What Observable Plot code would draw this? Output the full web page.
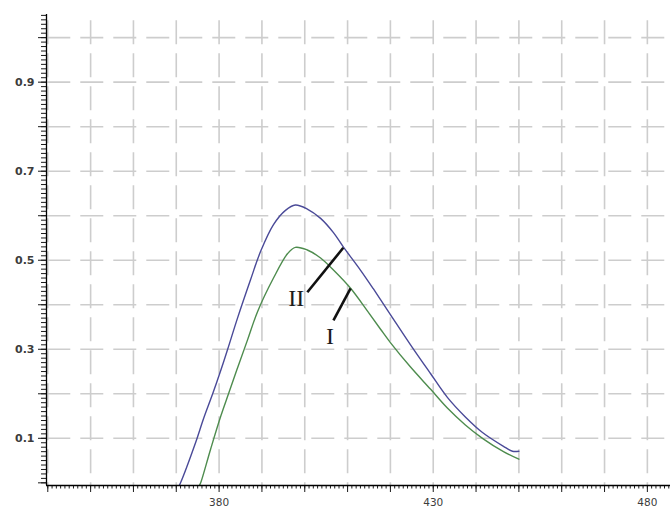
<!DOCTYPE html>
<html>
<head>
<meta charset="utf-8">
<script src="https://cdn.jsdelivr.net/npm/d3@7"></script>
<script src="https://cdn.jsdelivr.net/npm/@observablehq/plot@0.6"></script>
<style>
  html, body { margin: 0; padding: 0; background: #ffffff; }
</style>
</head>
<body>
<div id="chart"></div>
<script>
// Curve II (blue)
const wlII  = [370.7, 371.0, 374.5, 376.4, 378.5, 380.4, 382.0, 384.3, 387.3, 389.7, 392.7, 395.5, 397.8, 400.6, 403.7, 406.7, 409.0, 413.0, 416.0, 420.0, 424.7, 429.4, 433.3, 437.5, 441.5, 446.4, 448.5, 450.0];
const valII = [-0.006, 0.000, 0.090, 0.145, 0.200, 0.253, 0.300, 0.370, 0.455, 0.520, 0.580, 0.612, 0.624, 0.615, 0.594, 0.562, 0.530, 0.478, 0.436, 0.378, 0.310, 0.245, 0.192, 0.148, 0.113, 0.082, 0.071, 0.071];
// Curve I (green)
const wlI  = [375.4, 375.7, 378.0, 380.4, 382.2, 384.3, 386.6, 389.0, 392.7, 396.0, 397.8, 400.6, 403.7, 406.7, 410.7, 414.7, 417.7, 420.0, 424.7, 429.4, 433.3, 437.5, 441.5, 446.4, 450.0];
const valI = [-0.006, 0.000, 0.075, 0.150, 0.200, 0.258, 0.320, 0.385, 0.460, 0.515, 0.529, 0.523, 0.505, 0.478, 0.437, 0.385, 0.345, 0.315, 0.260, 0.210, 0.168, 0.130, 0.100, 0.070, 0.053];

// Annotation labels and their pointer lines
const labelNames = ["II", "I"];
const labelX = [398.0, 405.9];
const labelY = [0.415, 0.328];
const pointerX1 = [400.6, 406.7];
const pointerY1 = [0.428, 0.365];
const pointerX2 = [409.0, 410.7];
const pointerY2 = [0.528, 0.437];

// Ticks and grid
const xGrid = d3.range(340, 481, 10);
const xMinor = d3.range(340, 486, 1);
const xLabels = [380, 430, 480];
const yGrid = d3.range(1, 11).map(i => i / 10);
const yMajor = d3.range(0, 11).map(i => i / 10);
const yMinor = d3.range(0, 106).map(i => i / 100);
const yLabels = ["0.1", "0.3", "0.5", "0.7", "0.9"];

const xDomain = [339.7, 485.4];
const yDomain = [-0.006, 1.052];

const lineII = wlII.map((w, i) => ({w, v: valII[i]}));
const lineI = wlI.map((w, i) => ({w, v: valI[i]}));
const labels = labelNames.map((t, i) => ({t, x: labelX[i], y: labelY[i]}));
const pointers = labelNames.map((t, i) => ({x1: pointerX1[i], y1: pointerY1[i], x2: pointerX2[i], y2: pointerY2[i]}));

const gridCol = "#cdcdcd";
const tickCol = "#1a1a1a";
const textCol = "#3c3c3c";

const chart = Plot.plot({
  width: 670,
  height: 511,
  marginLeft: 46,
  marginRight: 0,
  marginTop: 14,
  marginBottom: 26,
  style: {fontFamily: "'DejaVu Sans', sans-serif", fontSize: "11px", background: "#ffffff", overflow: "visible"},
  x: {domain: xDomain, label: null},
  y: {domain: yDomain, label: null},
  marks: [
    Plot.ruleY(yGrid, {y: d => d, x1: 340, x2: 485.4, stroke: gridCol, strokeWidth: 1.6, strokeDasharray: "23,10"}),
    Plot.ruleX(xGrid, {x: d => d, y1: 1.038, y2: yDomain[0], stroke: gridCol, strokeWidth: 1.6, strokeDasharray: "24,9"}),
    Plot.line(lineII, {x: "w", y: "v", stroke: "#4a4a98", strokeWidth: 1.4, curve: "catmull-rom", clip: true}),
    Plot.line(lineI, {x: "w", y: "v", stroke: "#4e8c4e", strokeWidth: 1.4, curve: "catmull-rom", clip: true}),
    Plot.link(pointers, {x1: "x1", y1: "y1", x2: "x2", y2: "y2", stroke: "#111111", strokeWidth: 2.6}),
    Plot.text(labels, {x: "x", y: "y", text: "t", fontFamily: "'Liberation Serif', 'DejaVu Serif', serif", fontSize: 24, fill: "#1c1c1c", textAnchor: "middle", lineAnchor: "middle"}),
    Plot.axisY(yMinor, {tickSize: 5, tickFormat: () => "", stroke: tickCol, label: null}),
    Plot.axisY(yMajor, {tickSize: 8, tickPadding: 4, stroke: tickCol, fill: textCol, fontWeight: "bold", fontSize: 11, label: null,
      tickFormat: d => { const s = d.toFixed(1); return yLabels.includes(s) ? s : ""; }}),
    Plot.axisX(xMinor, {tickSize: 3.5, tickFormat: () => "", stroke: tickCol, label: null}),
    Plot.axisX(xGrid, {tickSize: 7, tickPadding: 6, stroke: tickCol, fill: textCol, fontSize: 10.5, label: null,
      tickFormat: d => xLabels.includes(d) ? String(d) : ""}),
    Plot.ruleX([xDomain[0]], {y1: yDomain[0], y2: yDomain[1], stroke: "#000000", strokeWidth: 1.3}),
    Plot.ruleY([yDomain[0]], {x1: xDomain[0], x2: xDomain[1], stroke: "#000000", strokeWidth: 1.3})
  ]
});
document.getElementById("chart").appendChild(chart);
</script>
</body>
</html>
